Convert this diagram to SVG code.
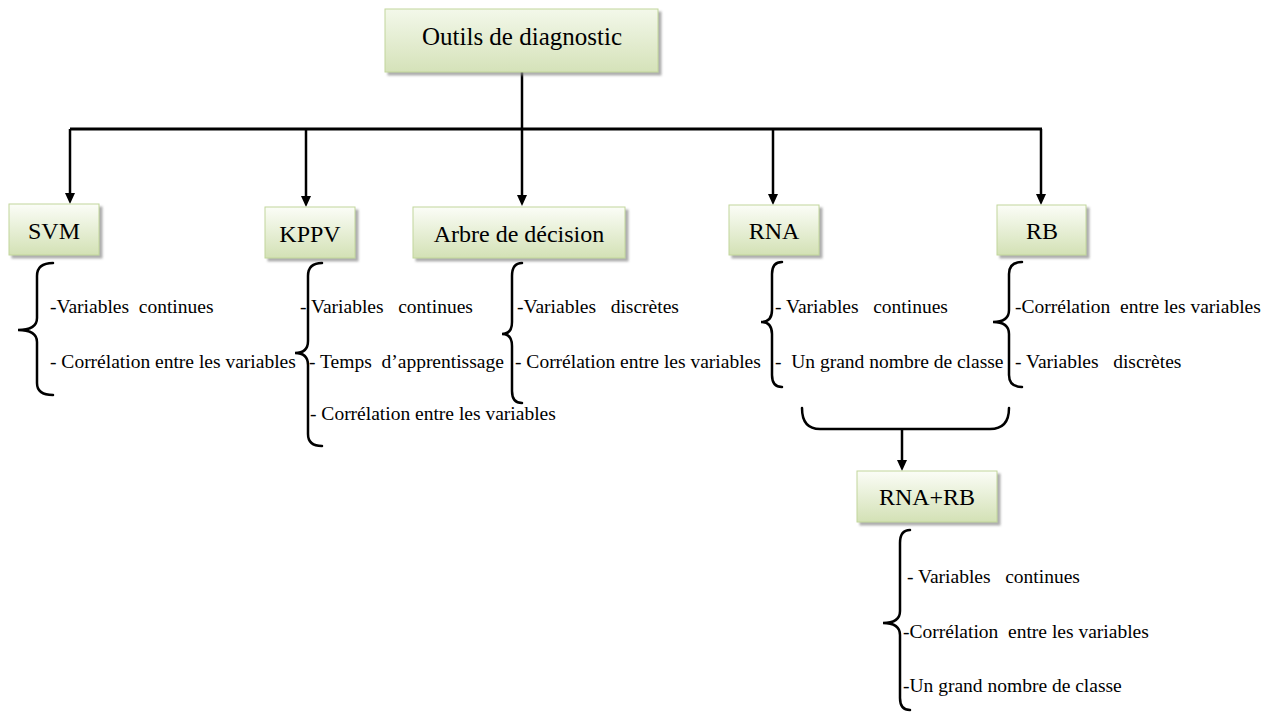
<svg xmlns="http://www.w3.org/2000/svg" width="1273" height="715" viewBox="0 0 1273 715" font-family="'Liberation Serif', 'Times New Roman', serif">
<defs>
<linearGradient id="g" x1="0" y1="0" x2="0" y2="1">
<stop offset="0" stop-color="#fbfdf7"/>
<stop offset="1" stop-color="#d3e1b5"/>
</linearGradient>
<linearGradient id="gt" x1="0" y1="0" x2="0" y2="1">
<stop offset="0" stop-color="#f3f8ea"/>
<stop offset="1" stop-color="#d5e2b9"/>
</linearGradient>
<filter id="sh" x="-10%" y="-10%" width="120%" height="130%">
<feDropShadow dx="3" dy="3" stdDeviation="1.2" flood-color="#8a8a8a" flood-opacity="0.7"/>
</filter>
<marker id="ah" markerUnits="userSpaceOnUse" markerWidth="11" markerHeight="10" refX="0" refY="5" orient="auto">
<path d="M0,0 L11,5 L0,10 z" fill="#000"/>
</marker>
</defs>
<style>
.box{fill:url(#g);stroke:#c2d69b;stroke-width:1;filter:url(#sh)}
.lbl{font-family:'Liberation Serif','Times New Roman',serif;font-size:24px;fill:#000;text-anchor:middle}
.t{font-family:'Liberation Serif','Times New Roman',serif;font-size:19.5px;fill:#000;white-space:pre}
.ln{stroke:#000;stroke-width:3;fill:none}
.ar{stroke:#000;stroke-width:2.5;fill:none;marker-end:url(#ah)}
.br{stroke:#000;stroke-width:2.5;fill:none;stroke-linecap:round}
</style>
<g id="connectors">
<line class="ln" x1="70" y1="129" x2="1042" y2="129"/>
<line class="ar" x1="522" y1="72" x2="522" y2="195"/>
<line class="ar" x1="70" y1="129" x2="70" y2="193"/>
<line class="ar" x1="306" y1="129" x2="306" y2="196"/>
<line class="ar" x1="773" y1="129" x2="773" y2="194"/>
<line class="ar" x1="1041" y1="129" x2="1041" y2="194"/>
<path class="br" d="M802,408 Q802,429 820,429 L990,429 Q1009,429 1009,408"/>
<line class="ar" x1="902" y1="429" x2="902" y2="460"/>
</g>
<g id="top">
<rect class="box" x="385" y="9" width="273" height="63" style="fill:url(#gt)"/>
<text class="lbl" x="522" y="45" font-family="'Liberation Serif', serif" style="font-size:25px">Outils de diagnostic</text>
</g>
<g id="svm">
<rect class="box" x="9" y="204" width="90" height="51"/>
<text class="lbl" x="54" y="239">SVM</text>
<path class="br" d="M53,263 Q37,263 37,276 L37,318 Q37,330 18,330 Q37,330 37,342 L37,383 Q37,395 53,395"/>
<text class="t" x="50" y="313">-Variables  continues</text>
<text class="t" x="50" y="368">- Corrélation entre les variables</text>
</g>
<g id="kppv">
<rect class="box" x="265" y="207" width="90" height="51"/>
<text class="lbl" x="310" y="242">KPPV</text>
<path class="br" d="M322,263 Q308,263 308,276 L308,341 Q308,353 295,353 Q308,353 308,365 L308,434 Q308,446 322,446"/>
<text class="t" x="300" y="313">- Variables   continues</text>
<text class="t" x="309" y="368">- Temps  d’apprentissage</text>
<text class="t" x="310" y="420">- Corrélation entre les variables</text>
</g>
<g id="arbre">
<rect class="box" x="413" y="207" width="212" height="51"/>
<text class="lbl" x="519" y="242">Arbre de décision</text>
<path class="br" d="M522,263 Q512,263 512,276 L512,322 Q512,334 502,334 Q512,334 512,346 L512,391 Q512,403 522,403"/>
<text class="t" x="517" y="313">-Variables   discrètes</text>
<text class="t" x="515" y="368">- Corrélation entre les variables</text>
</g>
<g id="rna">
<rect class="box" x="729" y="205" width="90" height="50"/>
<text class="lbl" x="774" y="239">RNA</text>
<path class="br" d="M782,262 Q772,262 772,274 L772,310 Q772,322 761,322 Q772,322 772,334 L772,375 Q772,387 782,387"/>
<text class="t" x="775" y="313">- Variables   continues</text>
<text class="t" x="775" y="368">-  Un grand nombre de classe</text>
</g>
<g id="rb">
<rect class="box" x="997" y="205" width="89" height="50"/>
<text class="lbl" x="1042" y="239">RB</text>
<path class="br" d="M1022,262 Q1009,262 1009,274 L1009,310 Q1009,322 993,322 Q1009,322 1009,334 L1009,375 Q1009,387 1022,387"/>
<text class="t" x="1015" y="313">-Corrélation  entre les variables</text>
<text class="t" x="1015" y="368">- Variables   discrètes</text>
</g>
<g id="rnarb">
<rect class="box" x="857" y="471" width="140" height="51"/>
<text class="lbl" x="927" y="505">RNA+RB</text>
<path class="br" d="M910,530 Q900,530 900,543 L900,611 Q900,623 883,623 Q900,623 900,635 L900,698 Q900,710 910,710"/>
<text class="t" x="907" y="583">- Variables   continues</text>
<text class="t" x="903" y="638">-Corrélation  entre les variables</text>
<text class="t" x="903" y="692">-Un grand nombre de classe</text>
</g>
</svg>
